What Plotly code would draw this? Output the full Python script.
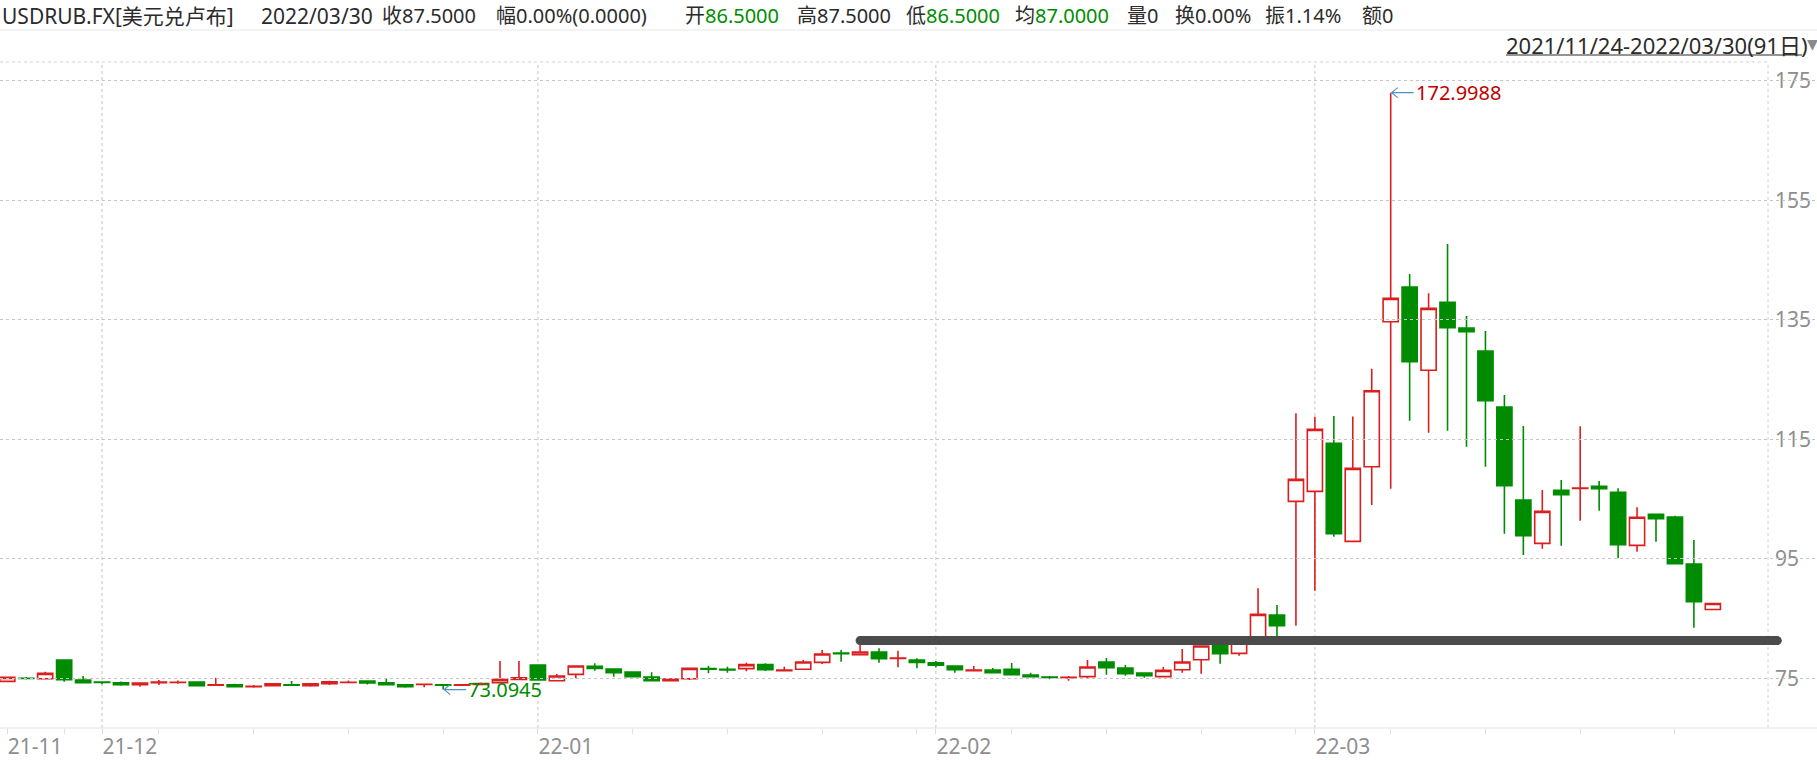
import plotly.graph_objects as go
import pandas as pd

# ---------------- data ----------------
dates = pd.bdate_range("2021-11-24", "2022-03-30")   # 91 trading days

opens = [74.47, 75.00, 74.92, 78.04, 74.70, 74.35, 74.25, 73.91, 74.25, 74.28,
         74.36, 73.84, 73.91, 73.60, 73.75, 73.90, 73.75, 74.08, 74.28, 74.53,
         74.25, 73.91, 73.95, 73.90, 73.85, 73.95, 74.26, 74.81, 77.21, 74.59,
         75.65, 76.99, 76.54, 76.04, 75.20, 74.59, 74.92, 76.60, 76.48, 76.60,
         77.27, 76.28, 76.49, 77.66, 79.20, 78.94, 79.39, 78.30, 78.05, 77.60,
         77.05, 76.28, 76.38, 76.49, 75.54, 75.18, 75.10, 75.26, 77.71, 76.71,
         75.87, 75.26, 76.43, 78.10, 80.73, 79.16, 81.50, 85.58, 104.60, 106.27,
         114.31, 97.91, 110.40, 134.67, 140.47, 126.53, 137.91, 133.61, 129.76, 120.39,
         104.83, 97.57, 106.44, 106.74, 107.11, 106.11, 97.24, 102.43, 101.98, 94.12,
         86.50]
highs = [75.20, 75.20, 76.09, 78.04, 75.37, 74.50, 74.47, 74.20, 74.70, 74.64,
         74.40, 75.09, 74.08, 73.86, 74.10, 74.53, 74.10, 74.58, 74.64, 74.55,
         74.86, 73.95, 74.00, 74.00, 74.00, 74.30, 77.88, 77.88, 77.21, 75.70,
         77.05, 77.49, 76.60, 76.10, 75.99, 74.90, 76.70, 77.10, 76.93, 77.60,
         77.49, 76.93, 78.05, 79.72, 79.72, 80.56, 80.00, 79.61, 78.33, 77.88,
         77.05, 77.05, 76.71, 77.55, 75.93, 75.37, 75.37, 78.05, 78.38, 77.21,
         75.90, 76.88, 79.89, 80.50, 81.00, 81.20, 90.04, 87.25, 119.33, 118.77,
         118.88, 118.80, 126.80, 172.9988, 142.64, 139.41, 147.66, 135.62, 133.11, 122.40,
         117.21, 106.50, 108.17, 117.16, 108.01, 106.78, 103.60, 102.50, 102.20, 98.13,
         87.50]
lows = [74.40, 74.80, 74.81, 74.42, 74.20, 74.00, 73.75, 73.58, 73.86, 74.08,
        73.70, 73.84, 73.55, 73.41, 73.70, 73.85, 73.58, 73.86, 74.20, 73.97,
        73.90, 73.41, 73.47, 73.0945, 73.80, 73.85, 74.20, 74.70, 74.60, 74.59,
        74.98, 76.26, 75.26, 75.20, 74.55, 74.55, 74.70, 75.82, 75.93, 76.15,
        76.21, 76.15, 76.38, 77.38, 77.77, 78.83, 77.60, 76.82, 76.65, 76.82,
        75.93, 76.25, 75.90, 75.60, 75.20, 74.81, 74.59, 74.92, 75.60, 75.43,
        75.09, 75.20, 75.93, 75.76, 77.44, 78.75, 81.30, 81.60, 83.79, 89.65,
        98.69, 97.90, 104.00, 106.72, 118.10, 116.10, 116.43, 113.75, 110.41, 99.19,
        95.62, 96.68, 97.18, 101.37, 103.04, 95.06, 96.18, 97.85, 94.10, 83.46,
        86.50]
closes = [75.14, 74.95, 75.81, 74.75, 74.25, 74.30, 73.91, 74.19, 74.35, 74.32,
          73.75, 73.88, 73.58, 73.66, 74.08, 73.85, 74.08, 74.42, 74.32, 74.19,
          73.91, 73.58, 73.99, 73.85, 73.90, 74.10, 74.81, 75.09, 74.70, 75.37,
          77.05, 76.65, 75.93, 75.26, 74.59, 74.87, 76.65, 76.50, 76.40, 77.27,
          76.43, 76.36, 77.71, 79.05, 79.12, 79.39, 78.27, 78.36, 77.66, 77.16,
          76.43, 76.36, 75.93, 75.60, 75.26, 75.12, 75.17, 76.88, 76.77, 75.76,
          75.43, 76.32, 77.71, 80.39, 79.11, 80.90, 85.69, 83.79, 108.28, 116.65,
          99.19, 110.12, 123.10, 138.57, 127.98, 136.90, 133.67, 133.00, 121.45, 107.23,
          98.86, 102.93, 105.72, 106.82, 106.72, 97.35, 101.93, 101.70, 94.17, 87.81,
          87.50]

y_ticks = [75, 95, 115, 135, 155, 175]
support_level = 81.3          # hand-drawn horizontal line
support_from = 45             # starts at this trading day index
support_to = 93.4

header_labels = ["USDRUB.FX[美元兑卢布]", "2022/03/30", "收", "幅", "开", "高", "低", "均", "量", "换", "振", "额"]
header_values = ["", "", "87.5000", "0.00%(0.0000)", "86.5000", "87.5000", "86.5000", "87.0000", "0", "0.00%", "1.14%", "0"]
header_value_green = [False, False, False, False, True, False, True, True, False, False, False, False]
range_text = "2021/11/24-2022/03/30(91日)"

# ---------------- styles ----------------
RED = "#dc1e1e"
GREEN = "#008c00"
TXT = "#2b2b2b"
AX = "#8e8e8e"
FONT = "Noto Sans, Noto Sans CJK SC, sans-serif"

W, H = 1817, 760
MT, MB = 62, 32
PLOT_RIGHT = 1768            # right edge of the price area (px)
PH = H - MT - MB

def px_x(p):
    return p / W

def px_y(p):
    return (H - MB - p) / PH

xpos = list(range(len(dates)))
month_idx = [i for i in range(len(dates)) if i == 0 or dates[i].month != dates[i - 1].month]
month_txt = [dates[i].strftime("%y-%m") for i in month_idx]
mondays = [i for i, d in enumerate(dates) if d.weekday() == 0]

x_lo = -0.385
x_hi = 92.91
x2_hi = x_lo + (x_hi - x_lo) * W / PLOT_RIGHT   # same scale, full-width helper axis

fig = go.Figure()

fig.add_trace(go.Candlestick(
    x=xpos, open=opens, high=highs, low=lows, close=closes,
    increasing=dict(line=dict(color=RED, width=1.6), fillcolor="#ffffff"),
    decreasing=dict(line=dict(color=GREEN, width=1.6), fillcolor=GREEN),
    whiskerwidth=0, showlegend=False, hoverinfo="skip",
))

fig.add_trace(go.Scatter(
    x=[support_from, support_to], y=[support_level, support_level],
    xaxis="x2", yaxis="y",
    mode="lines+markers",
    line=dict(color="#4b4b4b", width=9),
    marker=dict(color="#4b4b4b", size=9),
    showlegend=False, hoverinfo="skip",
))

shapes = []
for i in month_idx[1:]:
    shapes.append(dict(type="line", xref="x", yref="paper", x0=i, x1=i, y0=0, y1=1,
                       line=dict(color="#c4c4c4", width=1, dash="dot"), layer="below"))
shapes.append(dict(type="line", xref="paper", yref="paper", x0=px_x(PLOT_RIGHT), x1=px_x(PLOT_RIGHT),
                   y0=0, y1=1, line=dict(color="#d2d2d2", width=1, dash="dot"), layer="below"))
shapes.append(dict(type="line", xref="paper", yref="paper", x0=0, x1=px_x(PLOT_RIGHT), y0=1, y1=1,
                   line=dict(color="#d2d2d2", width=1, dash="dot"), layer="below"))
shapes.append(dict(type="line", xref="paper", yref="paper", x0=0, x1=1, y0=0, y1=0,
                   line=dict(color="#e2e2e2", width=1.2)))
shapes.append(dict(type="line", xref="paper", yref="paper", x0=0, x1=1, y0=px_y(30), y1=px_y(30),
                   line=dict(color="#e8e8e8", width=1)))
shapes.append(dict(type="line", xref="paper", yref="paper", x0=px_x(1506), x1=px_x(1802),
                   y0=px_y(55), y1=px_y(55), line=dict(color=TXT, width=1)))

imax = highs.index(max(highs))
imin = lows.index(min(lows))
for xi, yv in [(imax, highs[imax]), (imin, lows[imin])]:
    shapes.append(dict(type="path", xref="x", yref="y", xsizemode="pixel", ysizemode="pixel",
                       xanchor=xi, yanchor=yv, path="M 1 0 L 23 0 M 7 -5 L 1 0 L 7 5",
                       line=dict(color="#4a94c0", width=1.2)))

annotations = []
annotations.append(dict(x=imax, y=highs[imax], xref="x", yref="y", text=f"{highs[imax]:.4f}",
                        showarrow=False, xanchor="left", yanchor="middle", xshift=23,
                        font=dict(family=FONT, size=20, color="#c00000")))
annotations.append(dict(x=imin, y=lows[imin], xref="x", yref="y", text=f"{lows[imin]:.4f}",
                        showarrow=False, xanchor="left", yanchor="middle", xshift=23,
                        font=dict(family=FONT, size=20, color=GREEN)))

header_x = [0, 259, 380, 494, 683, 795, 904, 1013, 1125, 1173, 1263, 1360]
header_size = [21, 21, 20, 20, 20, 20, 20, 20, 20, 20, 20, 20]
for hx, lab, val, g, fs in zip(header_x, header_labels, header_values, header_value_green, header_size):
    vc = GREEN if g else TXT
    txt = lab + (f'<span style="color:{vc}">{val}</span>' if val else "")
    annotations.append(dict(x=px_x(hx), y=px_y(16), xref="paper", yref="paper", text=txt,
                            showarrow=False, xanchor="left", yanchor="middle",
                            font=dict(family=FONT, size=fs, color=TXT)))

annotations.append(dict(x=px_x(1504), y=px_y(45), xref="paper", yref="paper", text=range_text,
                        showarrow=False, xanchor="left", yanchor="middle",
                        font=dict(family=FONT, size=22, color=TXT)))
annotations.append(dict(x=px_x(1805), y=px_y(44), xref="paper", yref="paper", text="▼",
                        showarrow=False, xanchor="left", yanchor="middle",
                        font=dict(family="DejaVu Sans", size=14, color="#8a8a8a")))

fig.update_layout(
    width=W, height=H,
    margin=dict(l=0, r=0, t=MT, b=MB, pad=0),
    paper_bgcolor="#ffffff", plot_bgcolor="rgba(0,0,0,0)",
    boxgap=0.2, boxgroupgap=0,
    shapes=shapes, annotations=annotations,
    font=dict(family=FONT, size=21, color=AX),
    xaxis=dict(
        domain=[0, PLOT_RIGHT / W],
        range=[x_lo, x_hi], rangeslider=dict(visible=False),
        tickmode="array", tickvals=month_idx, ticktext=month_txt,
        ticks="outside", ticklen=5, tickcolor="#dadada", tickwidth=1,
        ticklabelposition="outside right",
        tickfont=dict(family=FONT, size=21, color=AX),
        showgrid=False, zeroline=False, showline=False,
        minor=dict(tickmode="array", tickvals=mondays, ticks="outside", ticklen=5,
                   tickcolor="#e2e2e2", tickwidth=1, showgrid=False),
        fixedrange=True,
    ),
    xaxis2=dict(
        domain=[0, 1], anchor="y", range=[x_lo, x2_hi], visible=False,
        showgrid=False, zeroline=False, fixedrange=True,
    ),
    yaxis=dict(
        anchor="x", side="right", range=[66.67, 178.13],
        tickmode="array", tickvals=y_ticks, ticktext=[str(v) for v in y_ticks],
        ticks="", showline=False, zeroline=False, ticklabelstandoff=6,
        showgrid=True, gridcolor="#c4c4c4", griddash="dot", gridwidth=1,
        tickfont=dict(family=FONT, size=21, color=AX),
        fixedrange=True,
    ),
)

fig.write_html("out.html", config={"displayModeBar": False},
               post_script="document.body.style.margin='0';")
